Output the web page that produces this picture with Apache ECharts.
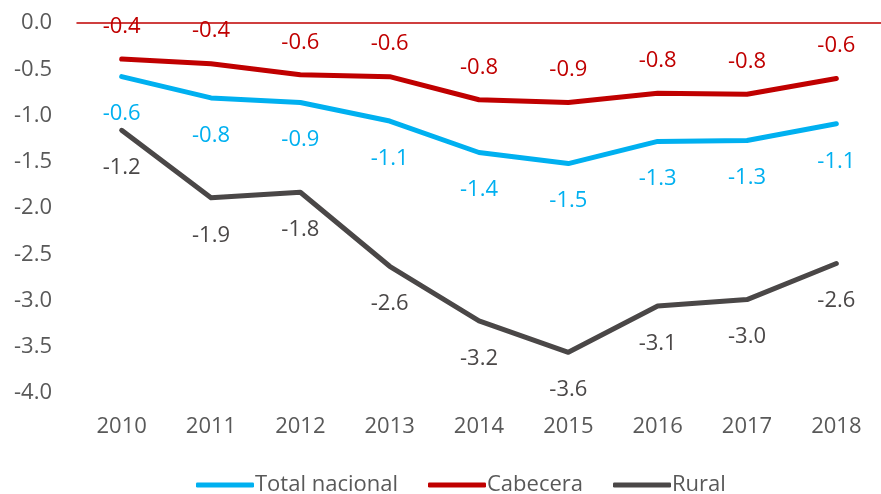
<!DOCTYPE html>
<html>
<head>
<meta charset="utf-8">
<script src="https://cdn.jsdelivr.net/npm/echarts@6/dist/echarts.min.js"></script>
<style>
html,body{margin:0;padding:0;background:#fff;}
#chart{width:881px;height:494px;}
</style>
</head>
<body>
<div id="chart"></div>
<script>
const years = ['2010','2011','2012','2013','2014','2015','2016','2017','2018'];
const totalNacional = [-0.58, -0.81, -0.86, -1.06, -1.40, -1.52, -1.28, -1.27, -1.09];
const cabecera = [-0.39, -0.44, -0.56, -0.58, -0.83, -0.86, -0.76, -0.77, -0.60];
const rural = [-1.16, -1.89, -1.83, -2.63, -3.22, -3.56, -3.06, -2.99, -2.60];
const yTicks = {min: -4, max: 0, step: 0.5};

const FONT = '"Open Sans", "Segoe UI", sans-serif';
const FS = 22;
const chart = echarts.init(document.getElementById('chart'));

function mkSeries(name, data, color, pos, dist, width) {
  return {
    name: name,
    type: 'line',
    data: data,
    symbol: 'circle',
    symbolSize: 3,
    itemStyle: {color: color},
    lineStyle: {color: color, width: width, cap: 'round', join: 'round'},
    label: {
      show: true,
      position: pos,
      distance: dist,
      color: color,
      fontFamily: FONT,
      fontSize: FS,
      formatter: p => p.value.toFixed(1)
    },
    emphasis: {disabled: true},
    animation: false
  };
}

chart.setOption({
  animation: false,
  backgroundColor: '#fff',
  grid: {left: 77, top: 23, bottom: 101, width: 814},
  legend: {
    left: 191,
    top: 469,
    icon: 'roundRect',
    itemWidth: 58,
    itemHeight: 5,
    itemGap: 30,
    textStyle: {color: '#595959', fontFamily: FONT, fontSize: FS, padding: [0,0,0,-4]},
    data: ['Total nacional', 'Cabecera', 'Rural']
  },
  xAxis: [{
    type: 'category',
    data: years,
    position: 'bottom',
    axisLine: {show: false},
    axisTick: {show: false},
    axisLabel: {color: '#595959', fontFamily: FONT, fontSize: FS, margin: 23}
  }, {
    type: 'category',
    data: years,
    position: 'top',
    axisLine: {show: true, onZero: false, lineStyle: {color: '#C00000', width: 1.5}},
    axisTick: {show: false},
    axisLabel: {show: false}
  }],
  yAxis: {
    type: 'value',
    min: yTicks.min,
    max: yTicks.max,
    interval: yTicks.step,
    axisLine: {show: false},
    axisTick: {show: false},
    splitLine: {show: false},
    axisLabel: {color: '#595959', fontFamily: FONT, fontSize: FS, margin: 25,
      formatter: v => v.toFixed(1)}
  },
  series: [
    mkSeries('Total nacional', totalNacional, '#00B0F0', 'bottom', 25, 5),
    mkSeries('Cabecera', cabecera, '#C00000', 'top', 20, 5),
    mkSeries('Rural', rural, '#4A4747', 'bottom', 25, 5)
  ]
});
</script>
</body>
</html>
